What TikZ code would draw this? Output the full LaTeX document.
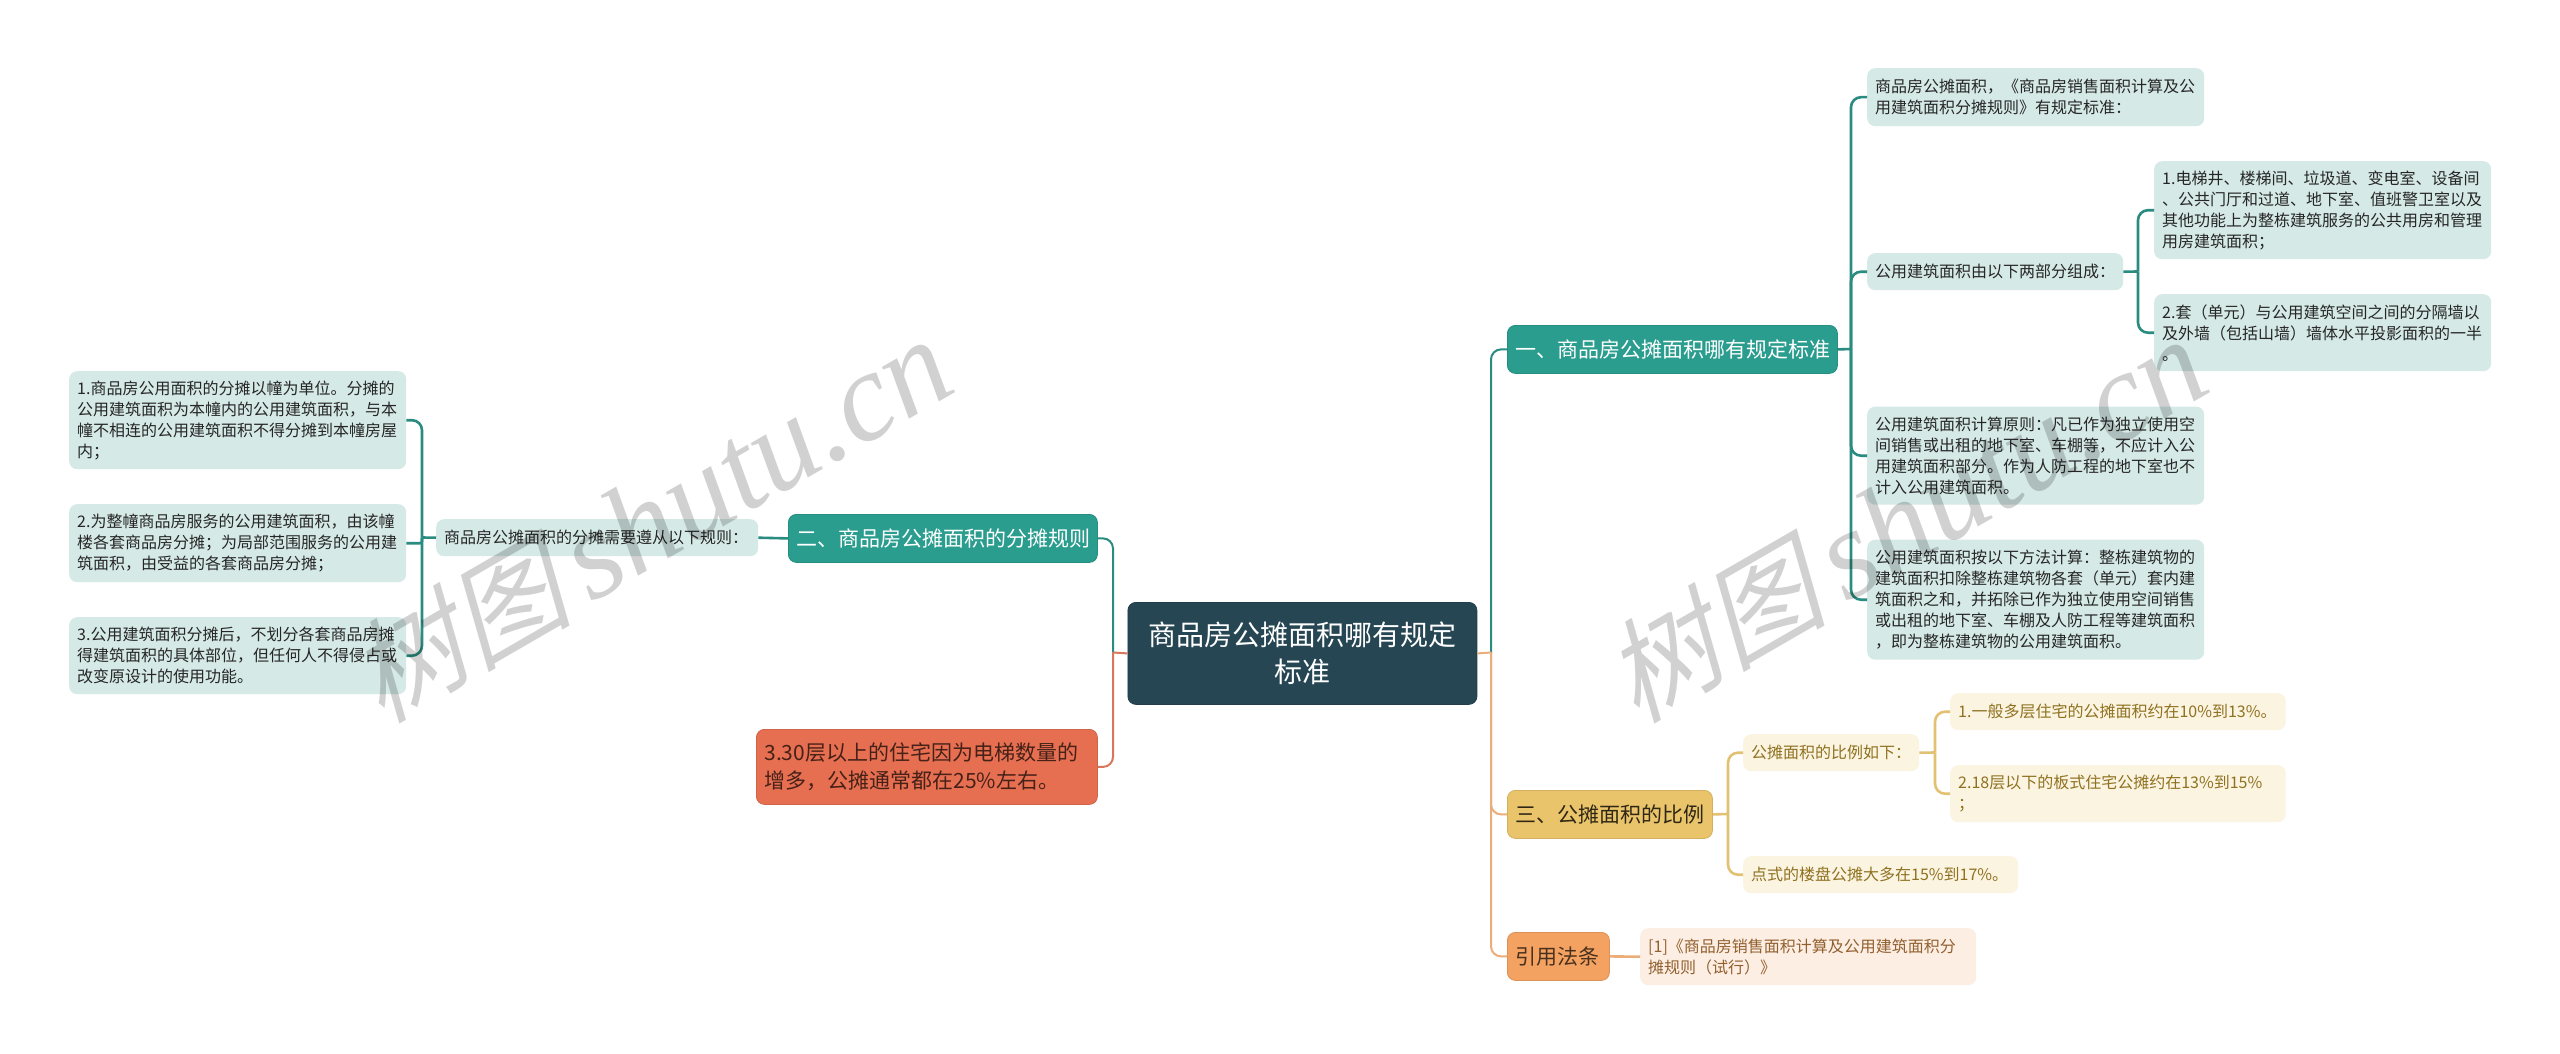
\documentclass[tikz,border=0pt]{standalone}
\usepackage{fontspec}
\setmainfont{Noto Sans CJK SC}
\newfontfamily\wmcjk[FakeSlant=0.25]{Noto Sans CJK SC}
\newfontfamily\wmlat{Liberation Serif}
\definecolor{cRoot}{HTML}{264653}
\definecolor{cTeal}{HTML}{2A9D8F}
\definecolor{cTealL}{HTML}{2A8C80}
\definecolor{cGold}{HTML}{E9C46A}
\definecolor{cGoldL}{HTML}{E3C173}
\definecolor{cSand}{HTML}{F4A261}
\definecolor{cSandL}{HTML}{EBAE79}
\definecolor{cCoral}{HTML}{E76F51}
\definecolor{cCoralL}{HTML}{D9765B}
\definecolor{fTeal}{HTML}{D5E9E6}
\definecolor{fGold}{HTML}{FBF4E1}
\definecolor{fSand}{HTML}{FDEEE3}
\definecolor{tGold}{HTML}{8F7120}
\definecolor{tSand}{HTML}{91602F}
\newcommand{\wmtext}{{\fontsize{112}{130}\selectfont\wmcjk 树图}\hspace{18pt}{\fontsize{127}{130}\selectfont\wmlat shutu.cn}}
\tikzset{
  box/.style n args={2}{anchor=north west,minimum width=#1,minimum height=#2,text width=#1-16pt,
     inner xsep=8pt,inner ysep=0pt,align=left,rounded corners=8pt,
     font=\fontsize{16}{21}\selectfont},
  leaf/.style={fill=fTeal,text=black!85},
  leafgold/.style={fill=fGold,text=tGold},
  leafsand/.style={fill=fSand,text=tSand},
  mainbox/.style={font=\fontsize{21}{28}\selectfont,draw=#1!90!black,line width=.8pt,fill=#1},
  conn/.style={line width=2.6pt,rounded corners=10pt},
  wm/.style={rotate=30,text=black,text opacity=.18,font=\itshape,inner sep=0pt}
}
\begin{document}
\begin{tikzpicture}[x=1pt,y=-1pt]
\useasboundingbox[fill=white] (0,0) rectangle (2560,1054);
% nodes
\node[box={349pt}{102pt},mainbox=cRoot,text=white,align=center,inner xsep=20pt,text width=309pt,font=\fontsize{28}{37}\selectfont] (root) at (1127.5,602) {商品房公摊面积哪有规定\\标准};
\node[box={330pt}{48pt},mainbox=cTeal,text=white] (A) at (1507,325) {一、商品房公摊面积哪有规定标准};
\node[box={309pt}{48pt},mainbox=cTeal,text=white] (B) at (788,514) {二、商品房公摊面积的分摊规则};
\node[box={205pt}{48pt},mainbox=cGold,text=black!80!cGold] (C) at (1507,790) {三、公摊面积的比例};
\node[box={102pt}{48pt},mainbox=cSand,text=black!70!cSand] (D) at (1507,932) {引用法条};
\node[box={341pt}{75pt},mainbox=cCoral,text=black!70!cCoral] (E) at (756,729) {3.30层以上的住宅因为电梯数量的\\增多，公摊通常都在25\%左右。};
\node[box={337pt}{58pt},leaf] (a1) at (1867,68) {商品房公摊面积，《商品房销售面积计算及公\\用建筑面积分摊规则》有规定标准：};
\node[box={256pt}{37pt},leaf] (a2) at (1867,253) {公用建筑面积由以下两部分组成：};
\node[box={337pt}{98pt},leaf] (b1) at (2154,161) {1.电梯井、楼梯间、垃圾道、变电室、设备间\\、公共门厅和过道、地下室、值班警卫室以及\\其他功能上为整栋建筑服务的公共用房和管理\\用房建筑面积；};
\node[box={337pt}{77pt},leaf] (b2) at (2154,294) {2.套（单元）与公用建筑空间之间的分隔墙以\\及外墙（包括山墙）墙体水平投影面积的一半\\。};
\node[box={337pt}{98pt},leaf] (a3) at (1867,406.5) {公用建筑面积计算原则：凡已作为独立使用空\\间销售或出租的地下室、车棚等，不应计入公\\用建筑面积部分。作为人防工程的地下室也不\\计入公用建筑面积。};
\node[box={337pt}{120pt},leaf] (a4) at (1867,539.5) {公用建筑面积按以下方法计算：整栋建筑物的\\建筑面积扣除整栋建筑物各套（单元）套内建\\筑面积之和，并拓除已作为独立使用空间销售\\或出租的地下室、车棚及人防工程等建筑面积\\，即为整栋建筑物的公用建筑面积。};
\node[box={322pt}{37pt},leaf] (m) at (436,519) {商品房公摊面积的分摊需要遵从以下规则：};
\node[box={337pt}{98pt},leaf] (l1) at (69,371) {1.商品房公用面积的分摊以幢为单位。分摊的\\公用建筑面积为本幢内的公用建筑面积，与本\\幢不相连的公用建筑面积不得分摊到本幢房屋\\内；};
\node[box={337pt}{78pt},leaf] (l2) at (69,504) {2.为整幢商品房服务的公用建筑面积，由该幢\\楼各套商品房分摊；为局部范围服务的公用建\\筑面积，由受益的各套商品房分摊；};
\node[box={337pt}{77pt},leaf] (l3) at (69,617) {3.公用建筑面积分摊后，不划分各套商品房摊\\得建筑面积的具体部位，但任何人不得侵占或\\改变原设计的使用功能。};
\node[box={176pt}{37pt},leafgold] (c0) at (1743,734) {公摊面积的比例如下：};
\node[box={335.5pt}{37pt},leafgold] (c1) at (1950,693) {1.一般多层住宅的公摊面积约在10\%到13\%。};
\node[box={335.5pt}{57pt},leafgold] (c2) at (1950,765) {2.18层以下的板式住宅公摊约在13\%到15\%\\；};
\node[box={275pt}{37pt},leafgold] (c3) at (1743,856) {点式的楼盘公摊大多在15\%到17\%。};
\node[box={336pt}{57pt},leafsand] (r1) at (1640,928) {[1]《商品房销售面积计算及公用建筑面积分\\摊规则（试行）》};
% spine coordinates
\coordinate (sR) at (1491,652.5);
\coordinate (sL) at (1113,652.5);
\coordinate (sA) at (1851,349);
\coordinate (sa2) at (2138,271.5);
\coordinate (sC) at (1728,814);
\coordinate (sc0) at (1935,752.5);
\coordinate (sm) at (422,537.5);
% connectors
\draw[conn,cTealL,line width=2pt] (sR) |- (A.west);
\draw[conn,cSandL,line width=2pt] (sR) |- (C.west);
\draw[conn,cSandL,line width=2pt] (sR) |- (D.west);
\draw[conn,cSandL,line width=2pt] (root.east) -- (sR);
\draw[conn,cTealL,line width=2pt] (sL) |- (B.east);
\draw[conn,cCoralL,line width=2pt] (sL) |- (E.east);
\draw[conn,cCoralL,line width=2pt] (root.west) -- (sL);
\draw[conn,cTealL] (A.east) -- (sA);
\draw[conn,cTealL] (sA) |- (a1.west);
\draw[conn,cTealL] (sA) |- (a2.west);
\draw[conn,cTealL] (sA) |- (a3.west);
\draw[conn,cTealL] (sA) |- (a4.west);
\draw[conn,cTealL] (a2.east) -- (sa2);
\draw[conn,cTealL] (sa2) |- (b1.west);
\draw[conn,cTealL] (sa2) |- (b2.west);
\draw[conn,cTealL] (B.west) -- (m.east);
\draw[conn,cTealL] (m.west) -- (sm);
\draw[conn,cTealL] (sm) |- (l1.east);
\draw[conn,cTealL,rounded corners=2pt] (sm) |- (l2.east);
\draw[conn,cTealL] (sm) |- (l3.east);
\draw[conn,cGoldL] (C.east) -- (sC);
\draw[conn,cGoldL] (sC) |- (c0.west);
\draw[conn,cGoldL] (sC) |- (c3.west);
\draw[conn,cGoldL] (c0.east) -- (sc0);
\draw[conn,cGoldL] (sc0) |- (c1.west);
\draw[conn,cGoldL] (sc0) |- (c2.west);
\draw[conn,cSandL] (D.east) -- (r1.west);
% watermarks
\node[wm] (w1) at (650,520) {\wmtext};
\node[wm] (w2) at (1905,520) {\wmtext};
\end{tikzpicture}
\end{document}
